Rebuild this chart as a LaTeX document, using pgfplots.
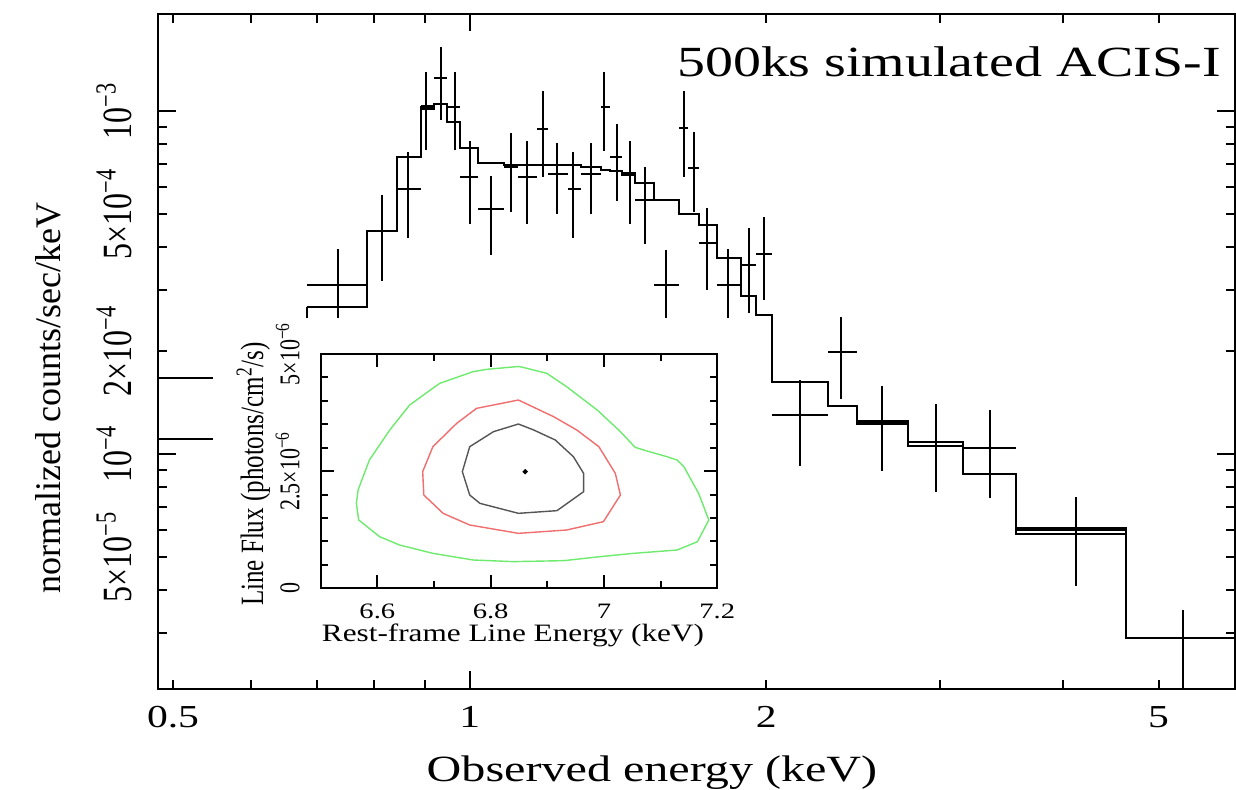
\documentclass[border=0pt]{standalone}
\usepackage{pgfplots}
\pgfplotsset{compat=1.18}
\usepackage{fontspec}
\setmainfont{Liberation Serif}
\usepackage{graphicx}
\newcommand{\hs}[1]{\scalebox{1.3}[1]{#1}}
\newcommand{\vs}[1]{\scalebox{1}[1.3]{#1}}
\newcommand{\fs}[1]{\fontsize{#1}{#1}\selectfont}
\definecolor{cgreen}{RGB}{110,235,110}
\definecolor{cred}{RGB}{240,110,110}
\definecolor{cgray}{RGB}{85,85,85}
\begin{document}
\begin{tikzpicture}
\useasboundingbox (0,0) rectangle (618pt,394.5pt);
\begin{axis}[
  at={(79.2pt,50.25pt)}, anchor=south west, scale only axis,
  width=538.05pt, height=337.5pt,
  xmode=log, ymode=log,
  xmin=0.4832, xmax=5.97, ymin=2.071e-5, ymax=1.924e-3,
  line width=1pt,
  every tick/.style={black, line width=1pt},
  tick align=inside, xtick pos=both, ytick pos=both,
  xtick={0.5,1,2,5},
  xticklabels={\hs{0.5},\hs{1},\hs{2},\hs{5}},
  minor xtick={0.6,0.7,0.8,0.9,3,4},
  ytick={5e-5,1e-4,2e-4,5e-4,1e-3},
  yticklabels={\vs{5×10\textsuperscript{−5}},\vs{10\textsuperscript{−4}},\vs{2×10\textsuperscript{−4}},\vs{5×10\textsuperscript{−4}},\vs{10\textsuperscript{−3}}},
  minor ytick={3e-5,4e-5,6e-5,7e-5,8e-5,9e-5,3e-4,4e-4,6e-4,7e-4,8e-4,9e-4},
  major tick length=4.5pt, minor tick length=4.5pt,
  extra x ticks={1}, extra x tick labels={},
  extra y ticks={1e-4,1e-3}, extra y tick labels={},
  extra tick style={major tick length=9pt},
  xticklabel style={anchor=base, inner sep=0pt, yshift=-19.25pt, font={\fs{16}}},
  yticklabel style={xshift=-12.5pt, rotate=90, anchor=south, inner sep=0pt, font={\fs{16}}},
]
% data crosses
\addplot[black, line width=1pt, only marks, mark=*, mark options={draw opacity=0, fill opacity=0},
  error bars/.cd, x dir=both, x explicit, y dir=both, y explicit, error mark=none,
  error bar style={line width=1pt, black, draw opacity=1}]
  table[x=E, y=F, x error minus=exm, x error plus=exp, y error minus=eym, y error plus=eyp] {
E F exm exp eym eyp
0.7359 3.110e-4 0.0523 0.0505 0.624e-4 0.843e-4
0.8144 4.468e-4 0.0280 0.0291 1.273e-4 1.221e-4
0.8666 5.910e-4 0.0231 0.0252 1.638e-4 1.699e-4
0.9028 1.036e-3 0.0110 0.0161 0.2665e-3 0.2662e-3
0.9356 1.2456e-3 0.0167 0.0132 0.3042e-3 0.2884e-3
0.9651 1.0293e-3 0.0163 0.0118 0.2598e-3 0.2729e-3
1.0005 6.434e-4 0.0236 0.0196 1.750e-4 1.759e-4
1.0498 5.188e-4 0.0297 0.0329 1.384e-4 1.276e-4
1.1019 6.880e-4 0.0192 0.0169 1.795e-4 1.764e-4
1.1420 6.434e-4 0.0232 0.0275 1.750e-4 1.759e-4
1.1855 8.860e-4 0.0160 0.0145 2.426e-4 2.600e-4
1.2274 6.566e-4 0.0274 0.0300 1.559e-4 1.502e-4
1.2728 5.922e-4 0.0154 0.0250 1.659e-4 1.687e-4
1.3275 6.566e-4 0.0297 0.0324 1.559e-4 1.502e-4
1.3689 1.0293e-3 0.0090 0.0183 0.2633e-3 0.2729e-3
1.4108 7.360e-4 0.0236 0.0175 1.885e-4 1.824e-4
1.4529 6.507e-4 0.0246 0.0195 1.839e-4 1.670e-4
1.5072 5.501e-4 0.0348 0.0321 1.413e-4 1.351e-4
1.5820 3.110e-4 0.0427 0.0480 0.6155e-4 0.824e-4
1.6491 8.903e-4 0.0191 0.0155 2.469e-4 2.549e-4
1.6893 6.843e-4 0.0247 0.0206 1.758e-4 1.813e-4
1.7410 4.121e-4 0.0311 0.0404 1.108e-4 1.092e-4
1.8268 3.110e-4 0.0454 0.0565 0.616e-4 0.838e-4
1.9183 3.556e-4 0.0350 0.0353 0.985e-4 1.003e-4
1.9872 3.830e-4 0.0336 0.0382 1.024e-4 1.072e-4
2.1610 1.2998e-4 0.1356 0.1481 0.3773e-4 0.3434e-4
2.3786 1.9792e-4 0.0695 0.0930 0.5324e-4 0.5337e-4
2.6180 1.2371e-4 0.1464 0.1654 0.3432e-4 0.3412e-4
2.9713 1.0816e-4 0.1879 0.1910 0.3083e-4 0.3173e-4
3.3755 1.0431e-4 0.2132 0.2082 0.3003e-4 0.3005e-4
4.1188 6.004e-5 0.5351 0.5171 1.882e-5 1.474e-5
5.2977 2.902e-5 0.6618 0.9022 1.0e-5 0.607e-5
};
% model A
\addplot[const plot, black, line width=1pt] table {
E F
0.6836 3.110e-4
0.7864 4.477e-4
0.8435 7.360e-4
0.8918 1.0293e-3
0.9189 1.0460e-3
0.9488 9.307e-4
0.9769 7.798e-4
1.0201 7.039e-4
1.0827 6.936e-4
1.2978 6.852e-4
1.3599 6.729e-4
1.3872 6.662e-4
1.4283 6.609e-4
1.4724 6.179e-4
1.5393 5.501e-4
1.6300 5.007e-4
1.7099 4.637e-4
1.7814 3.720e-4
1.8833 2.888e-4
1.9536 2.542e-4
2.0254 1.618e-4
2.3091 1.380e-4
2.4716 1.244e-4
2.7834 1.055e-4
3.1623 8.743e-5
3.5837 6.098e-5
4.6359 2.902e-5
6.1999 2.902e-5
};
% model B
\addplot[const plot, black, line width=1pt] table {
E F
0.6836 2.688e-4
0.7864 4.477e-4
0.8435 7.360e-4
0.8918 1.0115e-3
0.9189 1.0460e-3
0.9488 9.307e-4
0.9769 7.798e-4
1.0201 7.039e-4
1.0827 6.936e-4
1.2978 6.852e-4
1.3599 6.729e-4
1.3872 6.662e-4
1.4283 6.507e-4
1.4724 6.179e-4
1.5393 5.501e-4
1.6300 5.007e-4
1.7099 4.637e-4
1.7814 3.720e-4
1.8833 2.888e-4
1.9536 2.542e-4
2.0254 1.618e-4
2.3091 1.380e-4
2.4716 1.223e-4
2.7834 1.086e-4
3.1623 8.743e-5
3.5837 5.833e-5
4.6359 2.902e-5
6.1999 2.902e-5
};
\addplot[black, line width=1pt] coordinates {(0.6836,2.486e-4) (0.6836,2.688e-4)};
\addplot[black, line width=1pt] coordinates {(0.45,1.669e-4) (0.5491,1.669e-4)};
\addplot[black, line width=1pt] coordinates {(0.45,1.106e-4) (0.5491,1.106e-4)};
\end{axis}
% inset
\begin{axis}[
  at={(160.35pt,100.35pt)}, anchor=south west, scale only axis,
  width=198.3pt, height=117.15pt,
  xmin=6.5, xmax=7.2, ymin=0, ymax=5e-6,
  axis background/.style={fill=white},
  line width=1pt,
  every tick/.style={black, line width=1pt},
  tick align=inside, xtick pos=both, ytick pos=both,
  xtick={6.6,6.8,7.0,7.2}, xticklabels={\hs{6.6},\hs{6.8},\hs{7},\hs{7.2}},
  minor xtick={6.7,6.9,7.1},
  ytick={0,2.5e-6,5e-6},
  yticklabels={\vs{0},\vs{2.5×10\textsuperscript{−6}},\vs{5×10\textsuperscript{−6}}},
  minor ytick={0.5e-6,1e-6,1.5e-6,2e-6,3e-6,3.5e-6,4e-6,4.5e-6},
  scaled y ticks=false, scaled x ticks=false,
  major tick length=6.5pt, minor tick length=3.5pt,
  xticklabel style={anchor=base, inner sep=0pt, yshift=-15pt, font={\fs{11}}},
  yticklabel style={xshift=-10pt, rotate=90, anchor=south, inner sep=0pt, font={\fs{11}}},
]
\addplot[cgreen, line width=0.7pt] coordinates {
(6.846,4.730e-6)(6.793,4.673e-6)(6.769,4.623e-6)(6.710,4.374e-6)(6.657,3.912e-6)(6.622,3.379e-6)(6.586,2.739e-6)(6.566,2.098e-6)(6.563,1.813e-6)(6.567,1.458e-6)(6.604,1.102e-6)(6.639,0.924e-6)(6.698,0.746e-6)(6.769,0.604e-6)(6.840,0.569e-6)(6.929,0.590e-6)(6.993,0.675e-6)(7.052,0.746e-6)(7.129,0.817e-6)(7.165,0.995e-6)(7.185,1.458e-6)(7.167,2.027e-6)(7.141,2.596e-6)(7.129,2.738e-6)(7.111,2.809e-6)(7.070,2.951e-6)(7.055,3.008e-6)(7.029,3.343e-6)(6.988,3.805e-6)(6.934,4.303e-6)(6.899,4.588e-6)(6.852,4.730e-6)(6.846,4.730e-6)};
\addplot[cred, line width=0.7pt] coordinates {
(6.849,4.018e-6)(6.775,3.840e-6)(6.740,3.520e-6)(6.698,3.022e-6)(6.680,2.489e-6)(6.682,1.991e-6)(6.716,1.600e-6)(6.763,1.351e-6)(6.849,1.173e-6)(6.934,1.244e-6)(6.999,1.422e-6)(7.029,1.991e-6)(7.020,2.453e-6)(6.991,3.022e-6)(6.952,3.378e-6)(6.911,3.663e-6)(6.849,4.018e-6)};
\addplot[cgray, line width=0.7pt] coordinates {
(6.849,3.506e-6)(6.805,3.343e-6)(6.763,3.022e-6)(6.750,2.489e-6)(6.763,1.991e-6)(6.781,1.813e-6)(6.849,1.600e-6)(6.917,1.657e-6)(6.964,2.062e-6)(6.964,2.453e-6)(6.946,2.809e-6)(6.914,3.165e-6)(6.876,3.378e-6)(6.849,3.506e-6)};
\addplot[black, only marks, mark=*, mark size=0.7pt] coordinates {(6.861,2.489e-6)};
\end{axis}
% labels
\node[anchor=base east, inner sep=0pt] at (610.5pt,356pt) {\fs{21.5}\hs{500ks simulated ACIS-I}};
\node[anchor=base, inner sep=0pt] at (326pt,4pt) {\fs{18.5}\hs{Observed energy (keV)}};
\node[rotate=90, anchor=base, inner sep=0pt] at (30pt,195.5pt) {\fs{18}normalized counts/sec/keV};
\node[anchor=base, inner sep=0pt] at (256.5pt,73.65pt) {\fs{12.5}\scalebox{1.25}[1]{Rest-frame Line Energy (keV)}};
\node[rotate=90, anchor=base, inner sep=0pt] at (131.5pt,157.5pt) {\fs{12.5}\vs{Line Flux (photons/cm\textsuperscript{2}/s)}};
\end{tikzpicture}
\end{document}
